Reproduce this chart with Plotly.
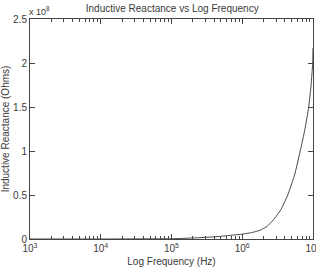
import plotly.graph_objects as go

# Data
freq_hz = [1e3, 1e4, 1e5, 2.5e5, 5e5, 7.5e5, 1e6, 1.4e6, 1.8e6, 2.25e6, 2.75e6, 3.5e6,
           4.4e6, 5.5e6, 6.6e6, 7.7e6, 8.7e6, 9.4e6, 9.9e6, 1e7]
reactance_ohms = [0.0, 0.0, 0.3e6, 1.5e6, 3.0e6, 4.5e6, 5.5e6, 7.5e6, 1.0e7, 1.45e7, 2.16e7, 3.3e7,
                  5.0e7, 7.3e7, 1.0e8, 1.25e8, 1.5e8, 1.75e8, 2.0e8, 2.17e8]

x_tick_vals = [1e3, 1e4, 1e5, 1e6, 1e7]
x_tick_text = ["10<sup>3</sup>", "10<sup>4</sup>", "10<sup>5</sup>", "10<sup>6</sup>", "10<sup>7</sup>"]
x_minor_vals = [m * d for d in [1e3, 1e4, 1e5, 1e6] for m in range(2, 10)]
y_tick_vals = [0, 0.5e8, 1.0e8, 1.5e8, 2.0e8, 2.5e8]
y_tick_text = ["0", "0.5", "1", "1.5", "2", "2.5"]

font_family = "Liberation Sans, Arial, sans-serif"
text_color = "#3a3a3a"
axis_color = "#444444"

fig = go.Figure()
fig.add_trace(go.Scatter(
    x=freq_hz, y=reactance_ohms, mode="lines",
    line=dict(color="#333333", width=0.9, shape="spline", smoothing=0.4),
    showlegend=False, hoverinfo="skip",
))
# invisible trace to carry the minor-tick overlay axis
fig.add_trace(go.Scatter(
    x=[freq_hz[0]], y=[reactance_ohms[0]], xaxis="x2", yaxis="y", mode="markers",
    marker=dict(opacity=0), showlegend=False, hoverinfo="skip",
))

fig.update_layout(
    width=316, height=273,
    margin=dict(l=30, r=3, t=19, b=34, autoexpand=False),
    paper_bgcolor="white", plot_bgcolor="white",
    font=dict(family=font_family, size=10, color=text_color),
    title=dict(text="Inductive Reactance vs Log Frequency",
               x=0.545, xanchor="center", y=0.97, yanchor="middle",
               font=dict(size=10, color=text_color)),
    annotations=[dict(text="x 10<sup>8</sup>", xref="paper", yref="paper",
                      x=-0.01, y=1.0, xanchor="left", yanchor="bottom",
                      showarrow=False, font=dict(size=9, color=text_color))],
    xaxis=dict(
        type="log", range=[3, 7], automargin=False,
        tickvals=x_tick_vals, ticktext=x_tick_text,
        ticks="inside", ticklen=5, tickcolor=axis_color,
        showline=True, linecolor=axis_color, linewidth=1, mirror="ticks",
        showgrid=False, zeroline=False, ticklabeloverflow="allow",
        title=dict(text="Log Frequency (Hz)", standoff=4, font=dict(size=10)),
        tickfont=dict(size=10),
    ),
    xaxis2=dict(
        type="log", range=[3, 7], overlaying="x", side="bottom", anchor="y",
        automargin=False,
        tickvals=x_minor_vals, showticklabels=False,
        ticks="inside", ticklen=3, tickcolor=axis_color, tickwidth=1,
        showline=False, mirror="ticks", showgrid=False, zeroline=False,
    ),
    yaxis=dict(
        range=[0, 2.5e8], automargin=False,
        tickvals=y_tick_vals, ticktext=y_tick_text,
        ticks="inside", ticklen=5, tickcolor=axis_color,
        showline=True, linecolor=axis_color, linewidth=1, mirror="ticks",
        showgrid=False, zeroline=False,
        title=dict(text="Inductive Reactance (Ohms)", standoff=2, font=dict(size=10)),
        tickfont=dict(size=10),
    ),
)

fig.write_html("out.html")
